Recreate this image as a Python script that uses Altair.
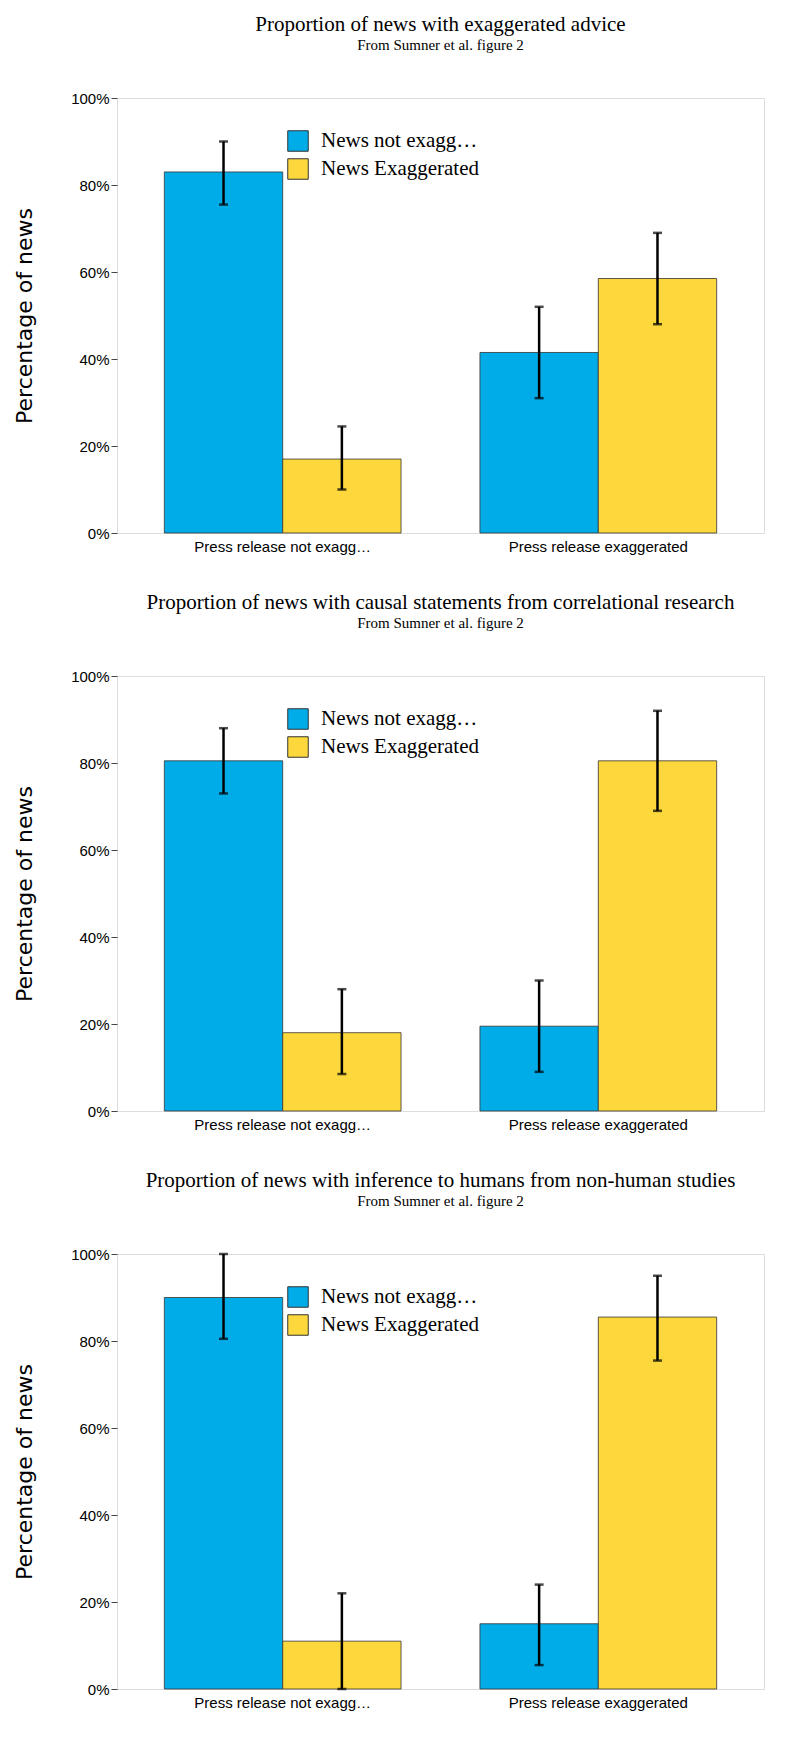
import altair as alt
import pandas as pd

titles = [
    "Proportion of news with exaggerated advice",
    "Proportion of news with causal statements from correlational research",
    "Proportion of news with inference to humans from non-human studies",
]
subtitle = "From Sumner et al. figure 2"
categories = ["Press release not exaggerated", "Press release exaggerated"]
series = ["News not exaggerated", "News Exaggerated"]

# values per panel: [cat0 series0, cat0 series1, cat1 series0, cat1 series1]
values = [
    [83, 17, 41.5, 58.5],
    [80.5, 18, 19.5, 80.5],
    [90, 11, 15, 85.5],
]
err_low = [
    [75.5, 10, 31, 48],
    [73, 8.5, 9, 69],
    [80.5, 0, 5.5, 75.5],
]
err_high = [
    [90, 24.5, 52, 69],
    [88, 28, 30, 92],
    [100, 22, 24, 95],
]

FONT = "Liberation Sans Narrow"


def panel(i):
    rows = []
    k = 0
    for c in categories:
        for s in series:
            rows.append({"cat": c, "ser": s, "val": values[i][k],
                         "lo": err_low[i][k], "hi": err_high[i][k]})
            k += 1
    df = pd.DataFrame(rows)
    x = alt.X("cat:N", sort=categories, title=None,
              scale=alt.Scale(paddingInner=0.25, paddingOuter=0.15),
              axis=alt.Axis(labelAngle=0, labelFontSize=15, labelFont="Arial",
                            tickSize=0, domain=False, labelPadding=6))
    xo = alt.XOffset("ser:N", sort=series)
    base = alt.Chart(df)
    bars = base.mark_bar(stroke="#333", strokeWidth=0.8).encode(
        x=x, xOffset=xo,
        y=alt.Y("val:Q", title="Percentage of news",
                scale=alt.Scale(domain=[0, 100], nice=False),
                axis=alt.Axis(values=[0, 20, 40, 60, 80, 100],
                              labelExpr="datum.value + '%'", grid=False,
                              labelFontSize=15, labelFont="Arial", domain=False,
                              tickSize=6, tickColor="#444", titleFontSize=22,
                              titleFont="DejaVu Sans", titleFontWeight="normal",
                              titlePadding=34)),
        color=alt.Color("ser:N", sort=series,
                        scale=alt.Scale(domain=series, range=["#00ace8", "#fcd83c"]),
                        legend=alt.Legend(title=None, orient="none", legendX=170,
                                          legendY=32, symbolType="square",
                                          symbolSize=420, symbolStrokeColor="#333",
                                          symbolStrokeWidth=1, labelFontSize=21,
                                          labelFont=FONT, rowPadding=2,
                                          labelOffset=12)),
    )
    rule = base.mark_rule(color="black", strokeWidth=2.5).encode(
        x=x, xOffset=xo, y="lo:Q", y2="hi:Q")
    cap_lo = base.mark_tick(color="black", thickness=2.5, size=9).encode(
        x=x, xOffset=xo, y="lo:Q")
    cap_hi = base.mark_tick(color="black", thickness=2.5, size=9).encode(
        x=x, xOffset=xo, y="hi:Q")
    return alt.layer(bars, rule, cap_lo, cap_hi).properties(
        width=647, height=435,
        title=alt.TitleParams(titles[i], subtitle=subtitle, fontSize=21,
                              subtitleFontSize=15, font=FONT, subtitleFont=FONT,
                              fontWeight="normal", color="black",
                              subtitleColor="black", offset=38, anchor="middle"),
    )


chart = alt.vconcat(*[panel(i) for i in range(3)], spacing=36).resolve_legend(
    color="independent"
).configure_view(stroke="black", strokeWidth=1).configure(background="white")

chart.save("out.html", embed_options={"renderer": "svg", "actions": False})
